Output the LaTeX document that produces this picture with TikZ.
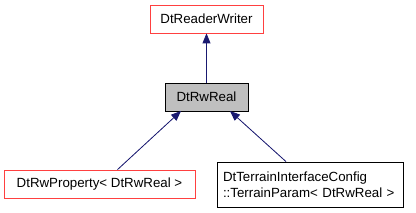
\documentclass[tikz,border=0pt]{standalone}
\usepackage{fontspec}
\setmainfont{Liberation Sans}
\usetikzlibrary{arrows.meta}
\definecolor{edgeblue}{RGB}{25,25,112}
\definecolor{boxred}{RGB}{255,0,0}
\definecolor{greyfill}{RGB}{191,191,191}
\tikzset{
  cls/.style={draw, line width=0.8pt, inner sep=0pt, font=\fontsize{13.3}{16}\selectfont, align=left},
  redbox/.style={cls, draw=boxred!75},
  blackbox/.style={cls, draw=black},
  curbox/.style={cls, draw=black, fill=greyfill},
  inh/.style={draw=edgeblue, line width=0.8pt, -{Triangle[length=10pt,width=8pt]}, fill=edgeblue},
}
\begin{document}
\begin{tikzpicture}[x=1pt,y=-1pt]
\useasboundingbox (0,0) rectangle (416,213);
\node[redbox, minimum width=113pt, minimum height=28pt] (rw) at (206.5,19) {DtReaderWriter};
\node[curbox, minimum width=83pt, minimum height=28pt] (real) at (206.5,97) {DtRwReal};
\node[redbox, minimum width=191pt, minimum height=28pt] (prop) at (99.5,184) {DtRwProperty< DtRwReal >};
\node[blackbox, minimum width=186pt, minimum height=45pt, text width=174pt] (terr) at (310,184.5) {DtTerrainInterfaceConfig\\::TerrainParam< DtRwReal >};
\draw[inh] (real.north) -- (rw.south);
\path (prop.north) ++(18,0) coordinate (p1);
\draw[inh] (p1) -- (181,111);
\path (terr.north) ++(-24,0) coordinate (t1);
\draw[inh] (t1) -- (230,111);
\end{tikzpicture}
\end{document}
